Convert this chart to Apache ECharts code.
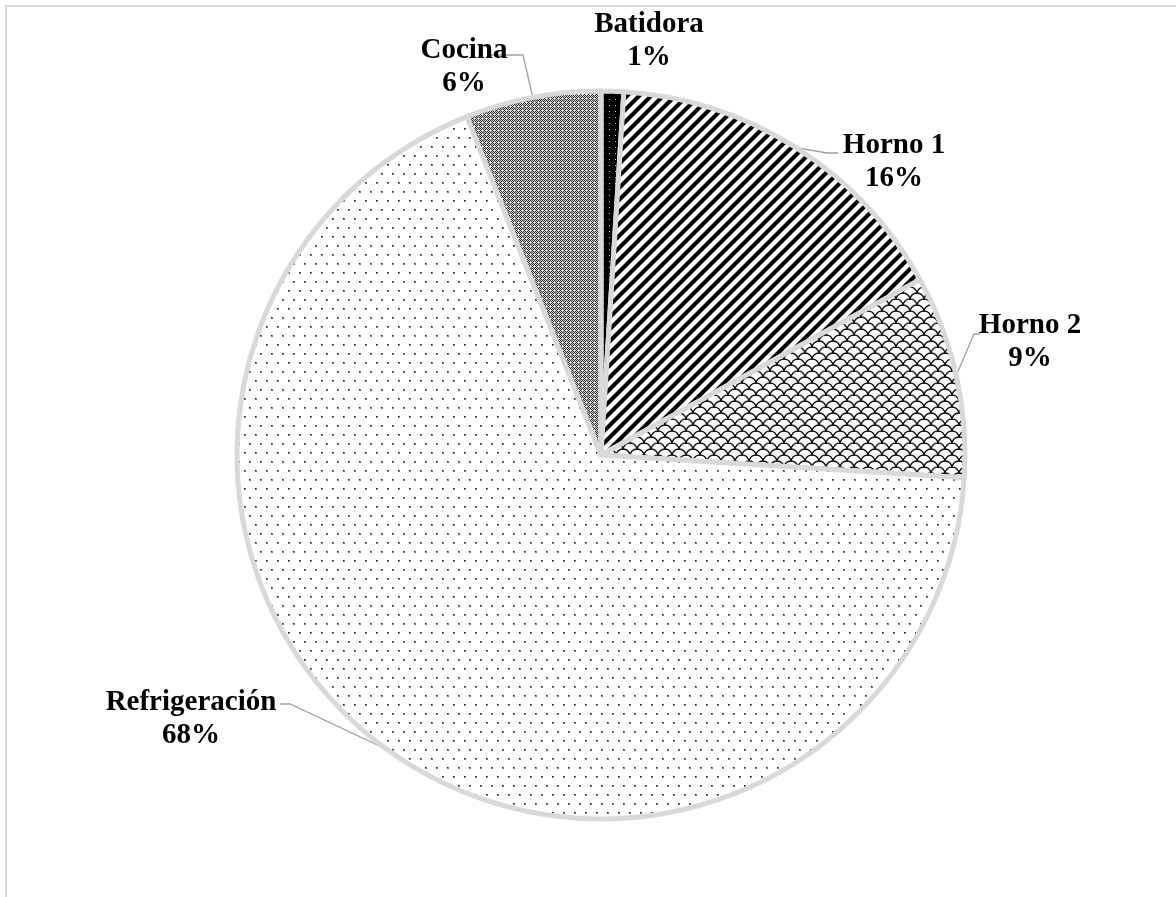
<!DOCTYPE html>
<html>
<head>
<meta charset="utf-8">
<script src="https://cdn.jsdelivr.net/npm/echarts@6/dist/echarts.min.js"></script>
<style>
  html, body { margin: 0; padding: 0; background: #fff; }
  #chart { width: 1176px; height: 897px; }
</style>
</head>
<body>
<div id="chart"></div>
<script>
// Energy use share by equipment (%)
const categories = ['Batidora', 'Horno 1', 'Horno 2', 'Refrigeración', 'Cocina'];
const shares = [1, 16, 9, 68, 6];

// Repeating tile built pixel by pixel: shade(x, y) returns a grey level 0..255
function pixelTile(w, h, shade) {
  const c = document.createElement('canvas');
  c.width = w; c.height = h;
  const g = c.getContext('2d');
  const img = g.createImageData(w, h);
  for (let y = 0; y < h; y++) {
    for (let x = 0; x < w; x++) {
      const v = shade(x, y);
      const o = (y * w + x) * 4;
      img.data[o] = img.data[o + 1] = img.data[o + 2] = v;
      img.data[o + 3] = 255;
    }
  }
  g.putImageData(img, 0, 0);
  return { image: c, repeat: 'repeat' };
}

// Repeating tile drawn with canvas paths
function pathTile(w, h, draw) {
  const c = document.createElement('canvas');
  c.width = w; c.height = h;
  const g = c.getContext('2d');
  draw(g, w, h);
  return { image: c, repeat: 'repeat' };
}

const fills = {
  // solid black with faint light specks
  'Batidora': pixelTile(6, 6, (x, y) => (x === 3 && y === 3 ? 200 : 0)),
  // wide upward diagonal stripes
  'Horno 1': pixelTile(12, 12, (x, y) => {
    const k = (x + y) % 12;
    if (k < 5) return 0;
    if (k === 5 || k === 11) return 150;
    return 255;
  }),
  // shingle-like scales
  'Horno 2': pathTile(14, 12, (g, w, h) => {
    g.fillStyle = '#fff'; g.fillRect(0, 0, w, h);
    g.strokeStyle = '#111'; g.lineWidth = 1.4;
    const arcs = [[w / 2, h], [0, h / 2], [w, h / 2], [0, h * 1.5], [w, h * 1.5], [w / 2, 0]];
    for (const [cx, cy] of arcs) {
      g.beginPath(); g.arc(cx, cy, w / 2, Math.PI, 2 * Math.PI); g.stroke();
    }
  }),
  // sparse staggered dots
  'Refrigeración': pixelTile(11, 18, (x, y) => {
    if ((x === 2 || x === 3) && (y === 2 || y === 3)) return (x === 2 && y === 2) ? 30 : 120;
    if ((x === 7 || x === 8) && (y === 11 || y === 12)) return (x === 7 && y === 11) ? 30 : 120;
    return 255;
  }),
  // fine diagonal mesh with light centres
  'Cocina': pixelTile(4, 4, (x, y) => {
    if (x === 2 && y === 2) return 255;
    if ((x + y) % 2 === 1) return 200;
    return 60;
  })
};

// Label block centres and leader-line bends/attachments (pixels)
const labelSpots = {
  'Batidora':      { x: 649, y: 41 },
  'Horno 1':       { x: 894, y: 162, bend: [827, 153], attach: [838, 153] },
  'Horno 2':       { x: 1030, y: 342, bend: [974, 334], attach: [980, 334] },
  'Refrigeración': { x: 191, y: 719, bend: [290, 704], attach: [280, 704] },
  'Cocina':        { x: 464, y: 67, bend: [523, 55], attach: [488, 55] }
};

const chart = echarts.init(document.getElementById('chart'), null, { renderer: 'canvas' });

chart.setOption({
  animation: false,
  backgroundColor: '#fff',
  graphic: [{
    type: 'rect',
    silent: true,
    shape: { x: 6, y: 6, width: 1300, height: 1000 },
    style: { fill: 'transparent', stroke: '#d9d9d9', lineWidth: 2 }
  }],
  series: [{
    type: 'pie',
    center: [601, 455],
    radius: 364,
    startAngle: 90,
    clockwise: true,
    silent: true,
    avoidLabelOverlap: false,
    itemStyle: { borderColor: '#d9d9d9', borderWidth: 5 },
    label: {
      show: true,
      position: 'outside',
      formatter: p => p.name + '\n' + Math.round(p.percent) + '%',
      fontFamily: 'Liberation Serif',
      fontWeight: 'bold',
      fontSize: 29,
      lineHeight: 33,
      color: '#000',
      align: 'center'
    },
    labelLine: { show: true, length: 10, length2: 10, lineStyle: { color: '#a0a0a0', width: 1.3 } },
    labelLayout: function (params) {
      const spot = labelSpots[categories[params.dataIndex]];
      const out = { x: spot.x, y: spot.y, align: 'center', verticalAlign: 'middle' };
      if (spot.bend && params.labelLinePoints) {
        out.labelLinePoints = [params.labelLinePoints[0], spot.bend, spot.attach];
      }
      return out;
    },
    data: categories.map((name, i) => ({
      name: name,
      value: shares[i],
      itemStyle: { color: fills[name] },
      labelLine: { show: name !== 'Batidora' }
    }))
  }]
});
</script>
</body>
</html>
